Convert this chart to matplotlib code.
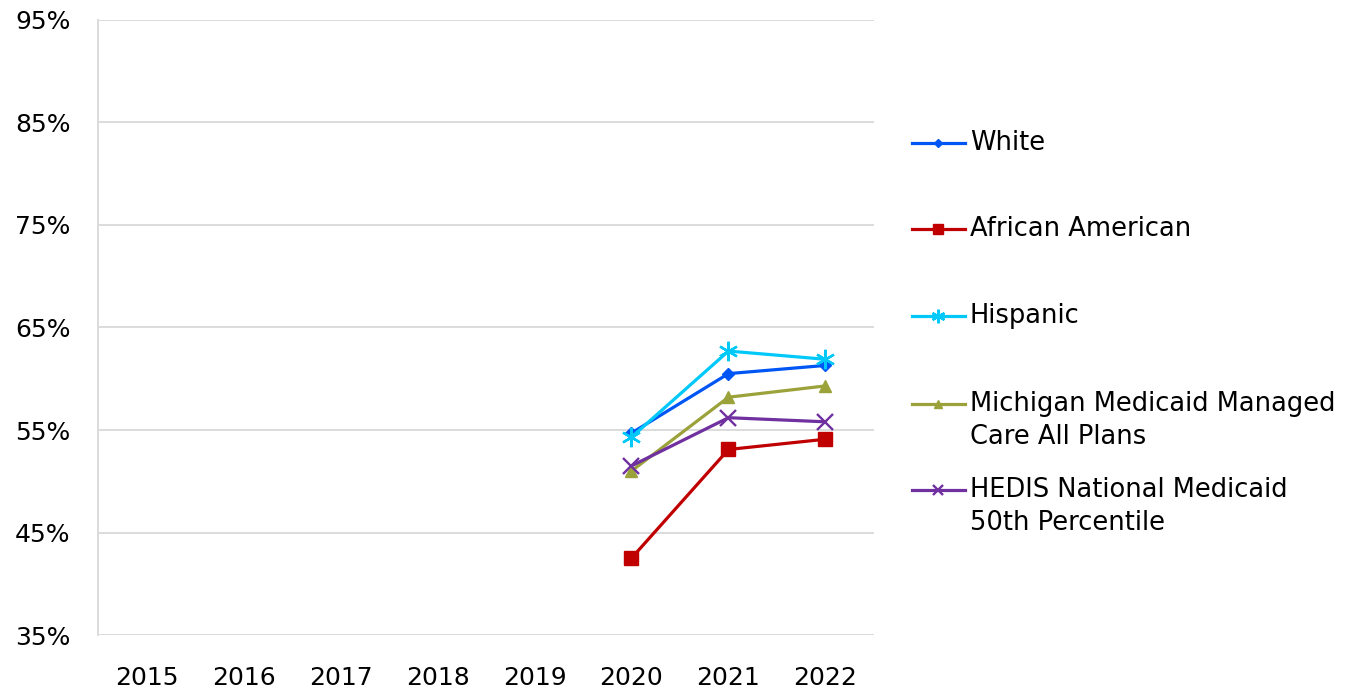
import matplotlib.pyplot as plt
from matplotlib.lines import Line2D
from matplotlib.ticker import FuncFormatter

plt.rcParams['font.family'] = ['DejaVu Sans']

# Rates by year (percent); only 2020-2022 have data
years = ['2015', '2016', '2017', '2018', '2019', '2020', '2021', '2022']
data_years = ['2020', '2021', '2022']

white = [54.7, 60.5, 61.3]
african_american = [42.5, 53.1, 54.1]
hispanic = [54.3, 62.7, 61.9]
michigan_all_plans = [51.0, 58.2, 59.3]
hedis_50th = [51.5, 56.2, 55.8]

series = [
    ('White', white, '#0055F5', 'D', 6, None),
    ('African American', african_american, '#C00000', 's', 10, None),
    ('Hispanic', hispanic, '#00C8F8', (6, 2, 0), 14, 1.7),
    ('Michigan Medicaid Managed\nCare All Plans', michigan_all_plans, '#9BA23A', '^', 8, None),
    ('HEDIS National Medicaid\n50th Percentile', hedis_50th, '#7030A0', 'x', 11, 1.7),
]

fig = plt.figure(figsize=(13.47, 6.94), dpi=100)
ax = fig.add_axes([0.0728, 0.085, 0.576, 0.8862])

x_pos = {y: i for i, y in enumerate(years)}
xs = [x_pos[y] for y in data_years]

for label, vals, color, marker, ms, mew in series:
    kw = dict(color=color, lw=2.3, marker=marker, markersize=ms,
              markerfacecolor=color, markeredgecolor=color)
    if mew:
        kw['markeredgewidth'] = mew
    ax.plot(xs, vals, **kw)

ax.set_xlim(-0.5, len(years) - 0.5)
ax.set_ylim(35, 95)
ax.set_yticks(range(35, 96, 10))
ax.yaxis.set_major_formatter(FuncFormatter(lambda v, _: f'{v:.0f}%'))
ax.set_xticks(range(len(years)))
ax.set_xticklabels(years)
ax.tick_params(length=0, labelsize=18, colors='black')
ax.tick_params(axis='x', pad=22)
ax.tick_params(axis='y', pad=20)
ax.grid(axis='y', color='#D9D9D9', lw=1.3)
ax.set_axisbelow(True)
for s in ['top', 'right', 'bottom']:
    ax.spines[s].set_visible(False)
ax.spines['left'].set_color('#D9D9D9')
ax.spines['left'].set_linewidth(1.3)

# Legend on the right, handle aligned with the first line of each label
legend_y = [143, 229, 316, 404, 490]
for (label, vals, color, marker, ms, mew), py in zip(series, legend_y):
    fy = 1 - py / 694
    kw = dict(color=color, lw=2.3, marker=marker, markersize=ms * 0.7,
              markerfacecolor=color, markeredgecolor=color,
              transform=fig.transFigure, markevery=[1])
    if mew:
        kw['markeredgewidth'] = mew
    fig.add_artist(Line2D([912 / 1347, 938 / 1347, 965 / 1347], [fy] * 3, **kw))
    if '\n' in label:
        fig.text(970 / 1347, 1 - (py - 13) / 694, label, fontsize=18.5,
                 va='top', ha='left', linespacing=1.35)
    else:
        fig.text(970 / 1347, fy, label, fontsize=18.5, va='center', ha='left')

fig.savefig('out.png', dpi=100)
